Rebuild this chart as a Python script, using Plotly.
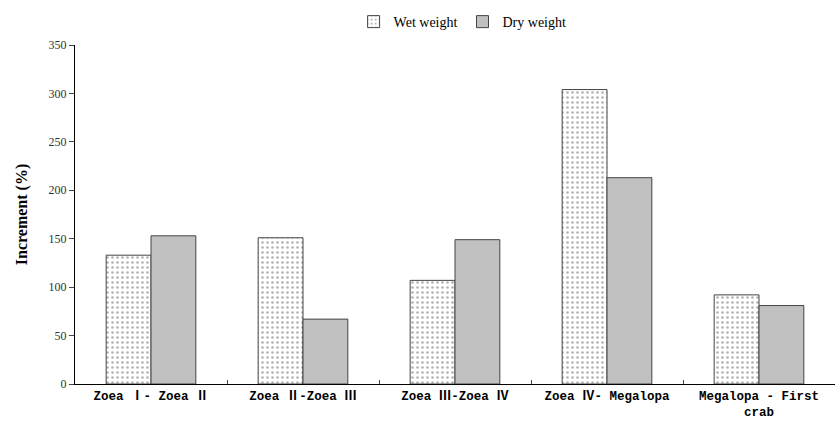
import plotly.graph_objects as go

stages = ["Zoea Ⅰ- Zoea Ⅱ", "Zoea Ⅱ-Zoea Ⅲ", "Zoea Ⅲ-Zoea Ⅳ",
          "Zoea Ⅳ- Megalopa", "Megalopa - First<br>crab"]
wet_weight = [133, 151, 107, 304, 92]
dry_weight = [153, 67, 149, 213, 81]
y_ticks = [0, 50, 100, 150, 200, 250, 300, 350]

fig = go.Figure()
fig.add_trace(go.Bar(
    x=stages, y=wet_weight, name="Wet weight",
    marker=dict(color="white",
                line=dict(color="#444444", width=1),
                pattern=dict(shape=".", fgcolor="#666666", bgcolor="white",
                             size=5, solidity=0.22)),
))
fig.add_trace(go.Bar(
    x=stages, y=dry_weight, name="Dry weight",
    marker=dict(color="#C0C0C0", line=dict(color="#444444", width=1)),
))

fig.update_layout(
    width=836, height=421,
    margin=dict(l=75, r=1, t=45, b=37),
    plot_bgcolor="white", paper_bgcolor="white",
    barmode="group", bargap=0.41, bargroupgap=0,
    font=dict(family="Liberation Serif", color="black"),
    legend=dict(orientation="h", x=0.51, xanchor="center", y=1.115, yanchor="top",
                font=dict(family="Liberation Serif", size=14, color="black"),
                itemwidth=30, traceorder="normal"),
    showlegend=True,
)
fig.update_yaxes(
    range=[0, 350], tickvals=y_ticks, showgrid=False, zeroline=False,
    showline=True, linecolor="black", linewidth=1,
    ticks="outside", ticklen=5, tickcolor="#444444",
    tickfont=dict(family="Liberation Serif", size=12, color="#333333"),
    title=dict(text="<b>Increment (%)</b>", standoff=16,
               font=dict(family="Liberation Serif", size=16, color="black")),
)
fig.update_xaxes(
    showgrid=False, showline=True, linecolor="black", linewidth=1,
    tickson="boundaries", ticks="inside", ticklen=4, tickcolor="#444444",
    tickangle=0,
    tickfont=dict(family="Liberation Mono, Noto Sans CJK SC", size=12.5, color="black", weight="bold"),
)

fig.write_html("out.html")
